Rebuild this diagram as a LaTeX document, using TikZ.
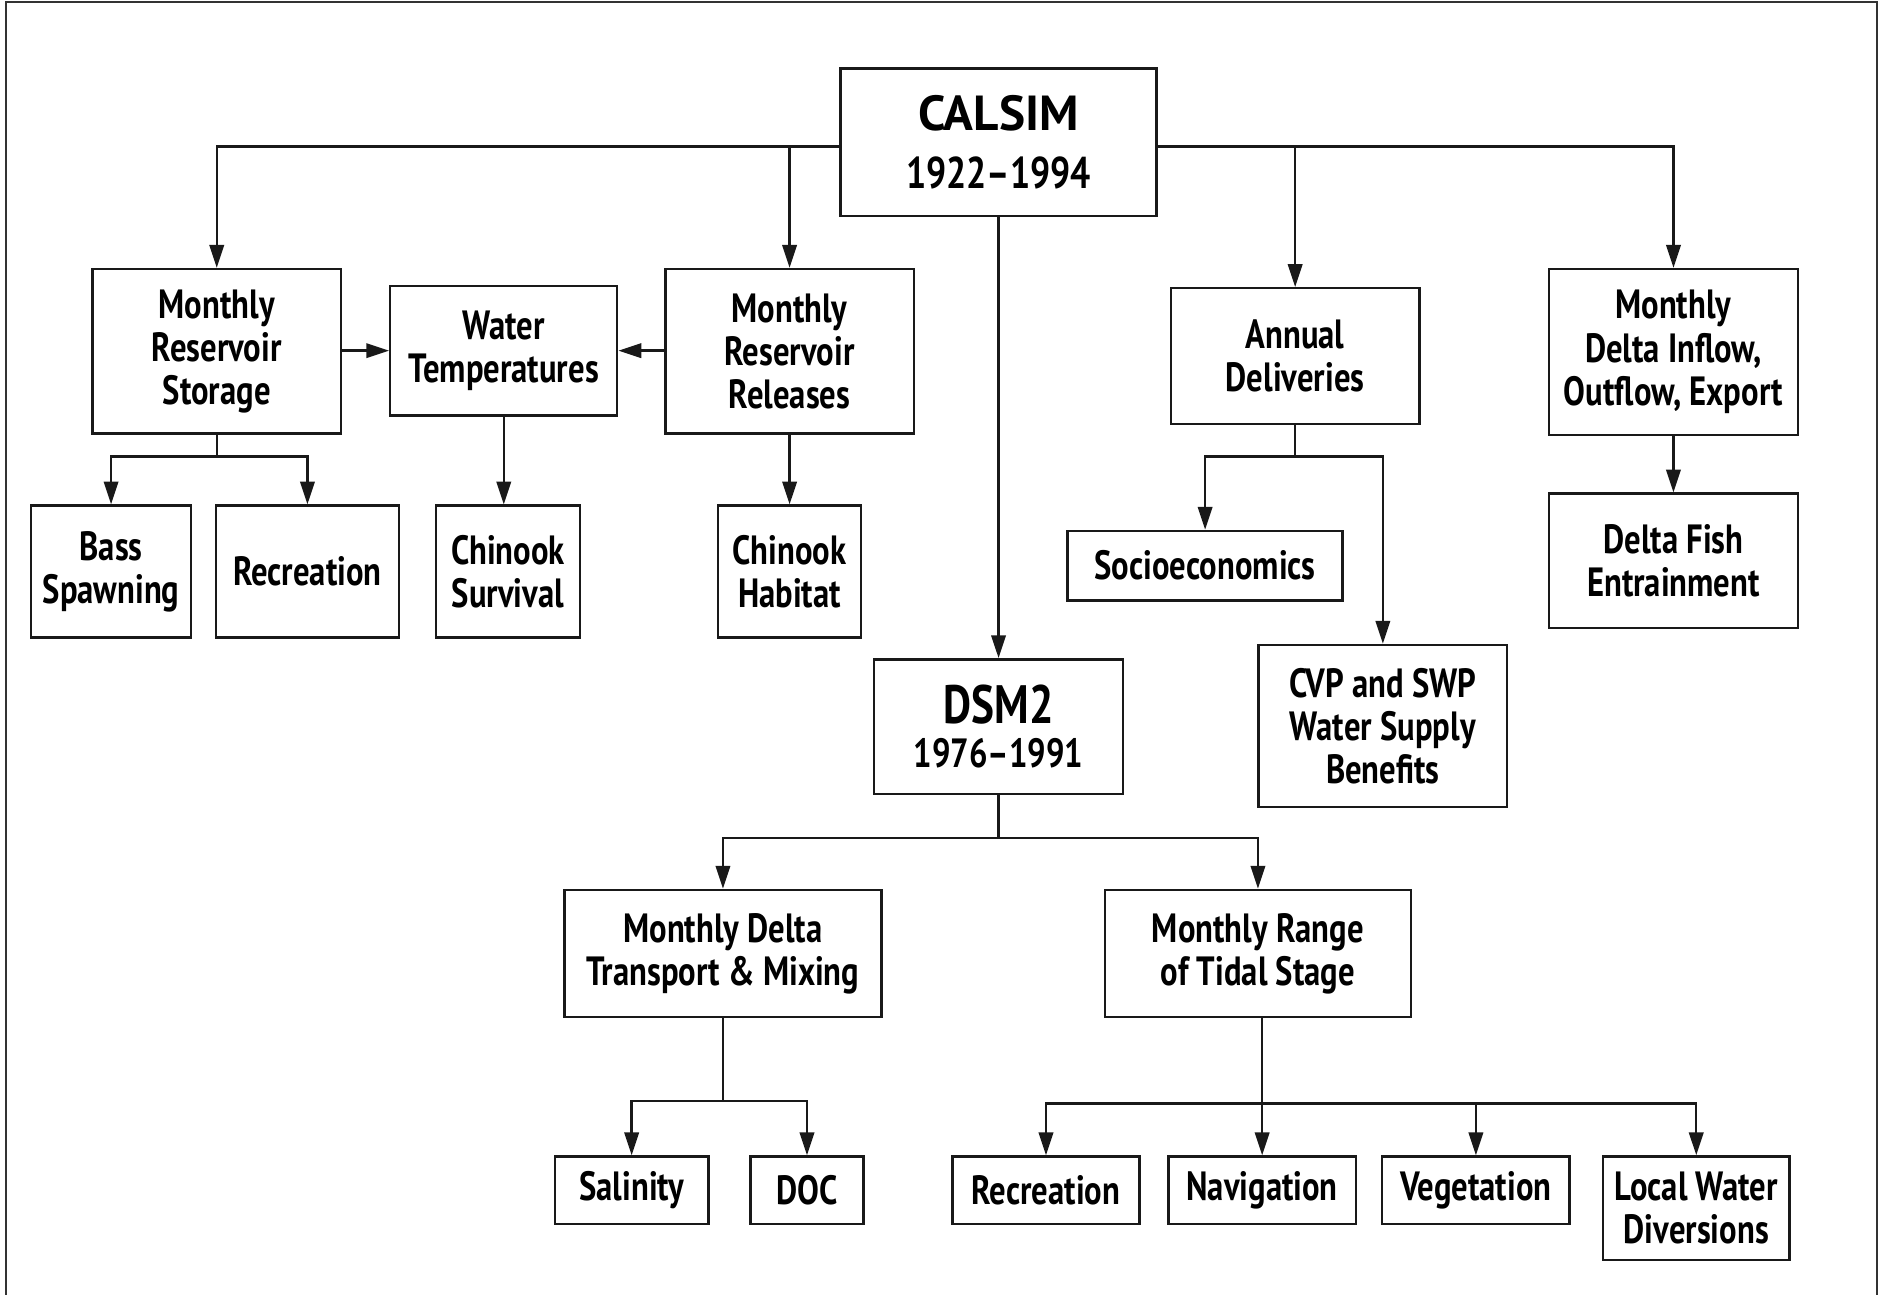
\documentclass[tikz,border=0pt]{standalone}
\usepackage{fontspec}
\setmainfont{PT Sans}[FakeStretch=0.8]
\newfontfamily\widefont{PT Sans}
\usetikzlibrary{arrows.meta}
\begin{document}
\begin{tikzpicture}[x=0.5pt,y=-0.5pt,
  box/.style={draw=black!90, line width=1pt, rectangle, inner sep=0pt, align=center,
    font=\fontsize{17}{18}\selectfont\bfseries},
  conn/.style={line width=1pt, draw=black!90},
  arr/.style={conn, -{Triangle[length=9.5pt,width=6pt]}}]
\useasboundingbox (0,0) rectangle (1568,1078);
\draw[line width=0.8pt, black!80] (5,1078) -- (5,2) -- (1563,2) -- (1563,1078);

\node[box, minimum width=131.5pt, minimum height=61.5pt, font=\fontsize{18.5}{24}\selectfont\bfseries] (calsim) at (831.5,118.5) {{\widefont\fontsize{20.5}{24}\selectfont CALSIM}\\1922--1994};
\node[box, minimum width=103.5pt, minimum height=68.5pt] (mrs) at (180.5,292.5) {Monthly\\Reservoir\\Storage};
\node[box, minimum width=94.5pt, minimum height=54pt] (wt) at (419.5,292) {Water\\Temperatures};
\node[box, minimum width=103.5pt, minimum height=68.5pt] (mrr) at (657.5,292.5) {Monthly\\Reservoir\\Releases};
\node[box, minimum width=103.5pt, minimum height=56.5pt] (ad) at (1078.5,296.5) {Annual\\Deliveries};
\node[box, minimum width=103.5pt, minimum height=69pt] (mdi) at (1393.5,293) {Monthly\\Delta Inflow,\\Outflow, Export};
\node[box, minimum width=66.5pt, minimum height=55pt] (bass) at (92.5,476) {Bass\\Spawning};
\node[box, minimum width=76pt, minimum height=55pt] (rec1) at (256,476) {Recreation};
\node[box, minimum width=60pt, minimum height=55pt] (chs) at (423,476) {Chinook\\Survival};
\node[box, minimum width=59.5pt, minimum height=55pt] (chh) at (657.5,476) {Chinook\\Habitat};
\node[box, minimum width=114.5pt, minimum height=29pt] (soc) at (1003.5,471) {Socioeconomics};
\node[box, minimum width=103.5pt, minimum height=67.5pt] (cvp) at (1151.5,604.5) {CVP and SWP\\Water Supply\\Benefits};
\node[box, minimum width=103.5pt, minimum height=56pt] (dfe) at (1393.5,467) {Delta Fish\\Entrainment};
\node[box, minimum width=103.5pt, minimum height=56pt, font=\fontsize{17}{18.5}\selectfont\bfseries] (dsm) at (831.5,605) {{\fontsize{22.5}{18.5}\selectfont DSM2}\\1976--1991};
\node[box, minimum width=132pt, minimum height=53pt] (mdt) at (602,794) {Monthly Delta\\Transport \& Mixing};
\node[box, minimum width=127.5pt, minimum height=53pt] (mrt) at (1047.5,794) {Monthly Range\\of Tidal Stage};
\node[box, minimum width=64pt, minimum height=28pt] (sal) at (526,991) {Salinity};
\node[box, minimum width=47pt, minimum height=28pt] (doc) at (672,991) {DOC};
\node[box, minimum width=78pt, minimum height=28pt] (rec2) at (871,991) {Recreation};
\node[box, minimum width=78pt, minimum height=28pt] (nav) at (1051,991) {Navigation};
\node[box, minimum width=78pt, minimum height=28pt] (veg) at (1229,991) {Vegetation};
\node[box, minimum width=77.5pt, minimum height=43pt] (lwd) at (1412.5,1006) {Local Water\\Diversions};

\coordinate (cw) at ([yshift=-1.75pt]calsim.west);
\coordinate (ce) at ([yshift=-1.75pt]calsim.east);
% CALSIM branches
\draw[arr] (cw) -| (mrs.north);
\draw[arr] (mrr.north |- cw) -- (mrr.north);
\draw[arr] (ce) -| (mdi.north);
\draw[arr] (ad.north |- ce) -- (ad.north);
\draw[arr] (calsim.south) -- (dsm.north);
% water temperatures
\draw[arr] (mrs.east |- wt.west) -- (wt.west);
\draw[arr] (mrr.west |- wt.east) -- (wt.east);
% storage
\draw[arr] (mrs.south) -- ++(0,18) -| (bass.north);
\draw[arr] (mrs.south) -- ++(0,18) -| (rec1.north);
\draw[arr] (wt.south) -- (wt.south |- chs.north);
\draw[arr] (mrr.south) -- (chh.north);
% deliveries
\draw[arr] (ad.south) -- ++(0,26) -| (soc.north);
\draw[arr] (ad.south) -- ++(0,26) -| (cvp.north);
\draw[arr] (mdi.south) -- (dfe.north);
% DSM2
\draw[arr] (dsm.south) -- ++(0,36) -| (mdt.north);
\draw[arr] (dsm.south) -- ++(0,36) -| (mrt.north);
\draw[arr] (mdt.south) -- ++(0,69) -| (sal.north);
\draw[arr] (mdt.south) -- ++(0,69) -| (doc.north);
\draw[arr] (nav.north |- mrt.south) -- ++(0,71) -| (rec2.north);
\draw[arr] (nav.north |- mrt.south) -- (nav.north);
\draw[arr] (nav.north |- mrt.south) -- ++(0,71) -| (veg.north);
\draw[arr] (nav.north |- mrt.south) -- ++(0,71) -| (lwd.north);
\end{tikzpicture}
\end{document}
